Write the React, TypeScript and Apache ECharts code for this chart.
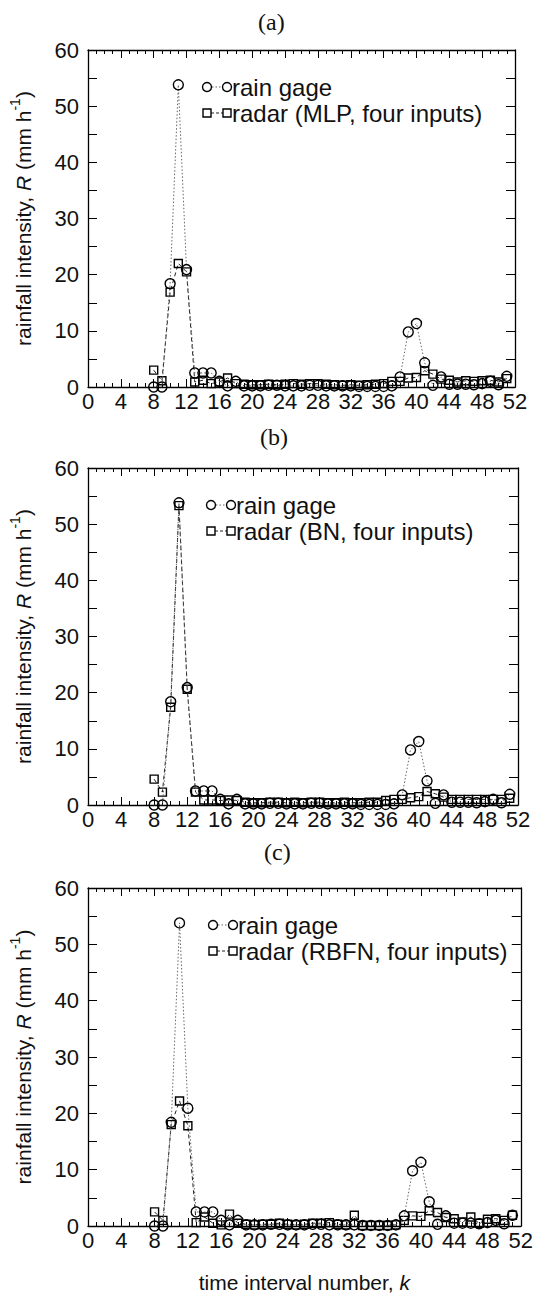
import React, { useEffect, useRef } from 'react';
import * as echarts from 'echarts';

// time interval numbers k
const intervals = [8, 9, 10, 11, 12, 13, 14, 15, 16, 17, 18, 19, 20, 21, 22, 23, 24, 25, 26, 27, 28, 29, 30, 31, 32, 33, 34, 35, 36, 37, 38, 39, 40, 41, 42, 43, 44, 45, 46, 47, 48, 49, 50, 51];

// rain gage observations (same in all panels)
const rainGage = [0, 0, 18.4, 53.8, 20.9, 2.5, 2.5, 2.5, 1.0, 0.2, 1.0, 0.2, 0.2, 0.2, 0.3, 0.3, 0.2, 0.2, 0.2, 0.3, 0.3, 0.2, 0.2, 0.2, 0.2, 0.1, 0.1, 0.1, 0.1, 0.2, 1.8, 9.8, 11.3, 4.3, 0.3, 1.8, 0.5, 0.5, 0.5, 0.4, 0.6, 1.0, 0.4, 1.9];

// radar estimates
const radarMLP = [3.0, 1.1, 16.9, 22.0, 20.5, 0.9, 1.2, 0.6, 0.9, 1.6, 0.6, 0.5, 0.4, 0.4, 0.5, 0.4, 0.5, 0.6, 0.5, 0.6, 0.6, 0.5, 0.4, 0.3, 0.4, 0.3, 0.4, 0.5, 0.6, 1.0, 1.0, 1.6, 1.7, 2.9, 2.3, 1.4, 1.2, 0.9, 1.1, 1.0, 1.1, 1.2, 0.9, 1.5];
const radarBN = [4.6, 2.3, 17.4, 53.3, 20.6, 2.3, 0.9, 0.9, 0.8, 0.9, 0.8, 0.5, 0.4, 0.4, 0.5, 0.5, 0.4, 0.5, 0.4, 0.5, 0.5, 0.4, 0.4, 0.5, 0.4, 0.4, 0.5, 0.5, 0.8, 1.0, 1.0, 1.3, 1.5, 2.4, 2.0, 1.4, 1.0, 1.0, 1.0, 1.0, 1.0, 1.0, 1.0, 1.2];
const radarRBFN = [2.5, 1.0, 18.0, 22.2, 17.8, 0.6, 1.6, 0.5, 0.2, 2.1, 0.5, 0.3, 0.2, 0.3, 0.3, 0.5, 0.3, 0.2, 0.3, 0.5, 0.5, 0.6, 0.3, 0.2, 1.9, 0.1, 0.1, 0.1, 0.1, 0.2, 1.0, 1.8, 1.7, 2.7, 2.4, 1.5, 1.3, 0.7, 1.6, 0.5, 1.2, 1.3, 1.0, 1.9];

const panelLabels = ['(a)', '(b)', '(c)'];
const gageName = 'rain gage';
const radarNames = ['radar (MLP, four inputs)', 'radar (BN, four inputs)', 'radar (RBFN, four inputs)'];
const radarSets = [radarMLP, radarBN, radarRBFN];

const FONT = '"Liberation Sans", Arial, Helvetica, sans-serif';
const SERIF = '"Liberation Serif", "Times New Roman", serif';

const panels = [
  { left: 81, top: 50, width: 434, height: 337, labelX: 258, labelY: 22 },
  { left: 85, top: 468, width: 433, height: 337, labelX: 260, labelY: 437 },
  { left: 87, top: 888, width: 435, height: 338, labelX: 264, labelY: 852 },
];

export default function App() {
  const ref = useRef<HTMLDivElement>(null);
  useEffect(() => {
    if (!ref.current) return;
    const chart = echarts.init(ref.current, undefined, { renderer: 'svg' });

    const grid: any[] = [];
    const xAxis: any[] = [];
    const yAxis: any[] = [];
    const series: any[] = [];
    const graphic: any[] = [];

    panels.forEach((p, i) => {
      grid.push({ left: p.left, top: p.top, width: p.width, height: p.height, containLabel: false });
      const xCommon = {
        type: 'value', gridIndex: i, min: 0, max: 52, interval: 4,
        axisLine: { show: true, onZero: false, lineStyle: { color: '#000', width: 1.3 } },
        axisTick: { show: true, inside: true, length: 8, lineStyle: { color: '#000', width: 1 } },
        minorTick: { show: true, splitNumber: 4, length: 4, lineStyle: { color: '#000', width: 1 } },
        splitLine: { show: false },
      };
      xAxis.push({
        ...xCommon, position: 'bottom',
        axisLabel: { show: true, fontFamily: FONT, fontSize: 22, color: '#111', margin: 3 },
        ...(i === 2 ? {
          name: 'time interval number, {i|k}', nameLocation: 'middle', nameGap: 46,
          nameTextStyle: { fontFamily: FONT, fontSize: 21, color: '#111', rich: { i: { fontFamily: FONT, fontSize: 21, fontStyle: 'italic', color: '#111' } } },
        } : {}),
      });
      xAxis.push({ ...xCommon, position: 'top', axisLabel: { show: false } });

      const yCommon = {
        type: 'value', gridIndex: i, min: 0, max: 60, interval: 10,
        axisLine: { show: true, onZero: false, lineStyle: { color: '#000', width: 1.3 } },
        axisTick: { show: true, inside: true, length: 9, lineStyle: { color: '#000', width: 1 } },
        minorTick: { show: true, splitNumber: 2, length: 9, lineStyle: { color: '#000', width: 1 } },
        splitLine: { show: false },
      };
      yAxis.push({
        ...yCommon, position: 'left',
        axisLabel: { show: true, fontFamily: FONT, fontSize: 22, color: '#111', margin: 9 },
        name: '{n|rainfall intensity, }{i|R}{n| (mm h}{s|-1}{n|)}',
        nameLocation: 'middle', nameRotate: 90, nameGap: 50,
        nameTextStyle: {
          fontFamily: FONT, fontSize: 21, color: '#111',
          rich: {
            n: { fontFamily: FONT, fontSize: 21, color: '#111', lineHeight: 30 },
            i: { fontFamily: FONT, fontSize: 21, fontStyle: 'italic', color: '#111', lineHeight: 30 },
            s: { fontFamily: FONT, fontSize: 14, color: '#111', verticalAlign: 'top', lineHeight: 14 },
          },
        },
      });
      yAxis.push({ ...yCommon, position: 'right', axisLabel: { show: false } });

      series.push({
        name: gageName, type: 'line', xAxisIndex: i * 2, yAxisIndex: i * 2,
        data: intervals.map((k, j) => [k, rainGage[j]]),
        symbol: 'circle', symbolSize: 10,
        itemStyle: { color: 'rgba(0,0,0,0)', borderColor: '#000', borderWidth: 1.4 },
        lineStyle: { color: '#666', width: 1, type: [1.5, 2] },
        z: 3,
      });
      series.push({
        name: radarNames[i], type: 'line', xAxisIndex: i * 2, yAxisIndex: i * 2,
        data: intervals.map((k, j) => [k, radarSets[i][j]]),
        symbol: 'rect', symbolSize: 8,
        itemStyle: { color: 'rgba(0,0,0,0)', borderColor: '#000', borderWidth: 1.4 },
        lineStyle: { color: '#222', width: 1, type: [4, 3] },
        z: 2,
      });

      // panel label
      graphic.push({
        type: 'text', x: p.labelX, y: p.labelY,
        style: { text: panelLabels[i], font: `24px ${SERIF}`, fill: '#111', verticalAlign: 'middle' },
      });

      // legend
      const lx = p.left + 126;
      const y1 = p.top + 37;
      const y2 = p.top + 63;
      graphic.push(
        { type: 'line', shape: { x1: lx + 5, y1, x2: lx + 15, y2: y1 }, style: { stroke: '#666', lineWidth: 1, lineDash: [1.5, 2] } },
        { type: 'circle', shape: { cx: lx, cy: y1, r: 4.5 }, style: { fill: 'none', stroke: '#000', lineWidth: 1.4 } },
        { type: 'circle', shape: { cx: lx + 20, cy: y1, r: 4.5 }, style: { fill: 'none', stroke: '#000', lineWidth: 1.4 } },
        { type: 'text', x: lx + 25, y: y1, style: { text: gageName, font: `24px ${FONT}`, fill: '#111', verticalAlign: 'middle' } },
        { type: 'line', shape: { x1: lx + 4, y1: y2, x2: lx + 16, y2: y2 }, style: { stroke: '#222', lineWidth: 1, lineDash: [3, 2] } },
        { type: 'rect', shape: { x: lx - 4, y: y2 - 4, width: 8, height: 8 }, style: { fill: 'none', stroke: '#000', lineWidth: 1.4 } },
        { type: 'rect', shape: { x: lx + 16, y: y2 - 4, width: 8, height: 8 }, style: { fill: 'none', stroke: '#000', lineWidth: 1.4 } },
        { type: 'text', x: lx + 25, y: y2, style: { text: radarNames[i], font: `24px ${FONT}`, fill: '#111', verticalAlign: 'middle' } },
      );
    });

    chart.setOption({
      animation: false,
      backgroundColor: '#fff',
      grid, xAxis, yAxis, series, graphic,
    });
    return () => chart.dispose();
  }, []);
  return <div ref={ref} style={{ position: 'absolute', left: 0, top: 0, width: 536, height: 1294 }} />;
}
